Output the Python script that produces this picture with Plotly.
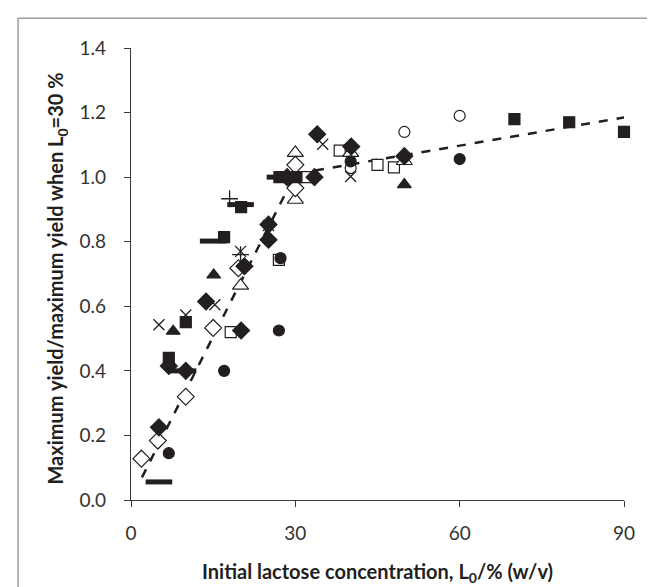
import plotly.graph_objects as go

# ------------------------------------------------------------------
# dados (x = L0 %, y = rendimento relativo)
# ------------------------------------------------------------------
DIAM_CHEIO_X = [5.1, 6.9, 10.0, 13.7, 20.1, 20.7, 25.1, 25.1, 28.5, 33.5, 34.0, 40.2, 49.9]
DIAM_CHEIO_Y = [0.225, 0.415, 0.40, 0.615, 0.525, 0.724, 0.806, 0.853, 1.0, 1.0, 1.133, 1.095, 1.065]

QUAD_CHEIO_X = [6.9, 10.0, 17.0, 20.1, 27.1, 30.2, 70.0, 80.0, 90.0]
QUAD_CHEIO_Y = [0.44, 0.551, 0.814, 0.907, 1.0, 1.0, 1.18, 1.17, 1.14]

TRI_CHEIO_X = [7.7, 15.1, 49.9]
TRI_CHEIO_Y = [0.523, 0.697, 0.977]

XIS_X = [5.1, 10.0, 15.3, 20.0, 25.1, 35.0, 40.1]
XIS_Y = [0.543, 0.573, 0.605, 0.77, 0.85, 1.102, 1.002]

DIAM_ABERTO_X = [1.9, 4.9, 10.0, 15.0, 19.6, 30.0, 30.0]
DIAM_ABERTO_Y = [0.128, 0.184, 0.32, 0.533, 0.718, 1.038, 0.966]

QUAD_ABERTO_X = [18.2, 27.0, 32.0, 38.1, 45.0, 48.0]
QUAD_ABERTO_Y = [0.520, 0.744, 1.0, 1.082, 1.038, 1.03]

TRI_ABERTO_X = [20.0, 30.0, 30.0, 40.1, 49.9]
TRI_ABERTO_Y = [0.664, 1.075, 0.93, 1.075, 1.05]

CIRC_CHEIO_X = [6.9, 17.0, 27.0, 27.3, 40.1, 60.0]
CIRC_CHEIO_Y = [0.145, 0.40, 0.525, 0.749, 1.049, 1.056]

CIRC_ABERTO_X = [40.1, 49.9, 60.0]
CIRC_ABERTO_Y = [1.028, 1.14, 1.19]

MAIS_X = [18.0, 20.0]
MAIS_Y = [0.933, 0.760]

TRACO_X = [5.1, 9.5, 15.0, 20.0, 27.2]
TRACO_Y = [0.056, 0.40, 0.802, 0.915, 1.0]

TEND_X = [2.0, 30.0, 90.0]
TEND_Y = [0.07, 1.01, 1.185]

X_TICKS = [0, 30, 60, 90]
Y_TICKS = [0.0, 0.2, 0.4, 0.6, 0.8, 1.0, 1.2, 1.4]

TITULO_X = "<b>Initial lactose concentration, L<sub>0</sub>/% (w/v)</b>"
TITULO_Y = "<b>Maximum yield/maximum yield when L<sub>0</sub>=30 %</b>"

PRETO = "#231f20"
FONTE = "Lato"

fig = go.Figure()

fig.add_trace(go.Scatter(
    x=TEND_X, y=TEND_Y, mode="lines",
    line=dict(color=PRETO, width=2.5, dash="dash"),
    showlegend=False, hoverinfo="skip"
))


def serie(x, y, simbolo, tam, aberto=False, lw=1.2):
    fig.add_trace(go.Scatter(
        x=x, y=y, mode="markers", showlegend=False, cliponaxis=False,
        marker=dict(
            symbol=simbolo, size=tam,
            color="white" if aberto else PRETO,
            line=dict(color=PRETO, width=lw)
        )
    ))


serie(QUAD_ABERTO_X, QUAD_ABERTO_Y, "square", 11, aberto=True)
serie(TRI_ABERTO_X, TRI_ABERTO_Y, "triangle-up", 14, aberto=True)
serie(DIAM_ABERTO_X, DIAM_ABERTO_Y, "diamond", 13, aberto=True)
serie(CIRC_ABERTO_X, CIRC_ABERTO_Y, "circle", 11, aberto=True)
serie(CIRC_CHEIO_X, CIRC_CHEIO_Y, "circle", 11)
serie(TRI_CHEIO_X, TRI_CHEIO_Y, "triangle-up", 12)
serie(QUAD_CHEIO_X, QUAD_CHEIO_Y, "square", 11)
serie(DIAM_CHEIO_X, DIAM_CHEIO_Y, "diamond", 13)
serie(XIS_X, XIS_Y, "x-thin-open", 11, lw=1.3)
serie(MAIS_X, MAIS_Y, "cross-thin-open", 12, lw=1.3)
serie(TRACO_X, TRACO_Y, "line-ew-open", 19, lw=5)

fig.update_layout(
    width=655,
    height=587,
    paper_bgcolor="white",
    plot_bgcolor="white",
    margin=dict(l=123, r=39, t=40, b=95),
    font=dict(family=FONTE, size=18, color="#231f20"),
    shapes=[dict(
        type="rect", xref="paper", yref="paper",
        x0=-0.229, x1=1.073, y0=-0.2035, y1=1.066,
        line=dict(color="#a0a0a0", width=1.5), fillcolor="rgba(0,0,0,0)"
    )],
    annotations=[
        dict(text=TITULO_X, xref="paper", yref="paper", x=0.5, y=0,
             yshift=-72, xanchor="center", yanchor="middle", showarrow=False,
             font=dict(size=20, family=FONTE, color=PRETO)),
        dict(text=TITULO_Y, xref="paper", yref="paper", x=0, y=0.49,
             xshift=-74, xanchor="center", yanchor="middle", showarrow=False,
             textangle=-90, font=dict(size=20, family=FONTE, color=PRETO)),
    ]
)

fig.update_xaxes(
    range=[0, 90], tickvals=X_TICKS, ticks="outside", ticklen=6,
    showline=True, linecolor="#3a3a3a", linewidth=1.2, tickcolor="#3a3a3a",
    showgrid=False, zeroline=False, ticklabelstandoff=10,
    tickfont=dict(size=19, family=FONTE, color="#333333")
)
fig.update_yaxes(
    range=[0, 1.4], tickvals=Y_TICKS, tickformat=".1f", ticks="outside", ticklen=6,
    showline=True, linecolor="#3a3a3a", linewidth=1.2, tickcolor="#3a3a3a",
    showgrid=False, zeroline=False, ticklabelstandoff=14,
    tickfont=dict(size=19, family=FONTE, color="#333333")
)

fig.write_html("out.html")
